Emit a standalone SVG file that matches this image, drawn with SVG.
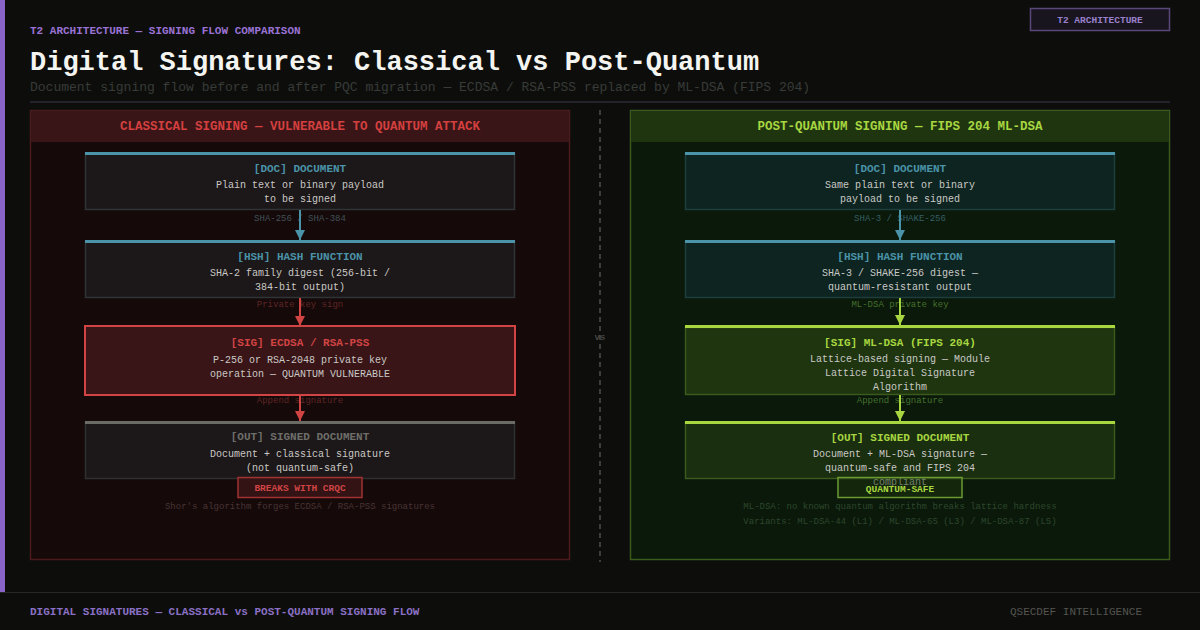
<svg xmlns="http://www.w3.org/2000/svg" width="1200" height="630" viewBox="0 0 1200 630">
<defs>
<style>
text{font-family:"Liberation Mono","DejaVu Sans Mono",monospace;}
.b{font-weight:bold;}
.c{text-anchor:middle;}
.body{font-size:10px;fill:#c9c9c6;}
.ttl{font-size:11px;font-weight:bold;text-anchor:middle;}
.lbl{font-size:9px;text-anchor:middle;}
.note{font-size:9px;text-anchor:middle;}
</style>
<marker id="aT" viewBox="0 0 10 10" refX="10" refY="5" markerWidth="5" markerHeight="5" orient="auto" markerUnits="strokeWidth"><path d="M0,0 L10,5 L0,10 Z" fill="#4a93a8"/></marker>
<marker id="aR" viewBox="0 0 10 10" refX="10" refY="5" markerWidth="5" markerHeight="5" orient="auto" markerUnits="strokeWidth"><path d="M0,0 L10,5 L0,10 Z" fill="#d04444"/></marker>
<marker id="aG" viewBox="0 0 10 10" refX="10" refY="5" markerWidth="5" markerHeight="5" orient="auto" markerUnits="strokeWidth"><path d="M0,0 L10,5 L0,10 Z" fill="#a8d640"/></marker>
</defs>
<rect x="0" y="0" width="1200" height="630" fill="#0d0e0c"/>
<rect x="0" y="0" width="5" height="592" fill="#8a63c8"/>
<line x1="0" y1="592.5" x2="1200" y2="592.5" stroke="#262824" stroke-width="1"/>

<g id="header">
<text x="30" y="34" class="b" font-size="11" fill="#9a72d4">T2 ARCHITECTURE — SIGNING FLOW COMPARISON</text>
<text x="30" y="70" class="b" font-size="27" fill="#f4f4f0">Digital Signatures: Classical vs Post-Quantum</text>
<text x="30" y="91" font-size="13" fill="#383b38">Document signing flow before and after PQC migration — ECDSA / RSA-PSS replaced by ML-DSA (FIPS 204)</text>
<line x1="30" y1="102" x2="1170" y2="102" stroke="#23232c" stroke-width="2"/>
</g>
<g id="badge-top">
<rect x="1030.5" y="8.5" width="139" height="22" fill="#19151f" stroke="#5a4878" stroke-width="1.5"/>
<text x="1100" y="23" class="b c" font-size="9.5" fill="#9a80cc">T2 ARCHITECTURE</text>
</g>

<g id="panel-classical">
<rect x="30.5" y="110.5" width="539" height="449" fill="#160909" stroke="#4a1b1b" stroke-width="1.5"/>
<rect x="31" y="111" width="538" height="31" fill="#3a1517"/>
<text x="300" y="130" class="b c" font-size="12.5" fill="#d4403f">CLASSICAL SIGNING — VULNERABLE TO QUANTUM ATTACK</text>
</g>
<g id="panel-pqc">
<rect x="630.5" y="110.5" width="539" height="449" fill="#0a190a" stroke="#3a5a1e" stroke-width="1.5"/>
<rect x="631" y="111" width="538" height="31" fill="#1f3510"/>
<text x="900" y="130" class="b c" font-size="12.5" fill="#a8d640">POST-QUANTUM SIGNING — FIPS 204 ML-DSA</text>
</g>

<g id="divider">
<line x1="600" y1="110" x2="600" y2="562" stroke="#4d4d4a" stroke-width="1.5" stroke-dasharray="5 4"/>
<text x="600" y="340" class="c" font-size="9" fill="#5a5a56">vs</text>
</g>

<!-- Classical nodes -->
<g id="c-doc">
<rect x="85.5" y="153.5" width="429" height="56" fill="#1c1718" stroke="#2f3436" stroke-width="1.5"/>
<rect x="85" y="152" width="430" height="3" fill="#4a93a8"/>
<text x="300" y="172" class="ttl" fill="#4a93a8">[DOC] DOCUMENT</text>
<text x="300" y="188" class="body c">Plain text or binary payload</text>
<text x="300" y="202" class="body c">to be signed</text>
</g>
<g id="c-hsh">
<rect x="85.5" y="241.5" width="429" height="56" fill="#1c1718" stroke="#2f3436" stroke-width="1.5"/>
<rect x="85" y="240" width="430" height="3" fill="#4a93a8"/>
<text x="300" y="260" class="ttl" fill="#4a93a8">[HSH] HASH FUNCTION</text>
<text x="300" y="276" class="body c">SHA-2 family digest (256-bit /</text>
<text x="300" y="290" class="body c">384-bit output)</text>
</g>
<g id="c-sig">
<rect x="85" y="326" width="430" height="69" fill="#3a1517" stroke="#d04444" stroke-width="2"/>
<text x="300" y="346" class="ttl" fill="#d04444">[SIG] ECDSA / RSA-PSS</text>
<text x="300" y="363" class="body c">P-256 or RSA-2048 private key</text>
<text x="300" y="377" class="body c">operation — QUANTUM VULNERABLE</text>
</g>
<g id="c-out">
<rect x="85.5" y="422.5" width="429" height="56" fill="#1c1718" stroke="#2f3031" stroke-width="1.5"/>
<rect x="85" y="421" width="430" height="3" fill="#6b6b66"/>
<text x="300" y="440" class="ttl" fill="#6e6e6a">[OUT] SIGNED DOCUMENT</text>
<text x="300" y="457" class="body c">Document + classical signature</text>
<text x="300" y="471" class="body c">(not quantum-safe)</text>
</g>
<g id="c-badge">
<rect x="238" y="477.5" width="124" height="20" fill="#3a1517" fill-opacity="0.85" stroke="#a03232" stroke-width="1.5"/>
<text x="300" y="491" class="b c" font-size="9.5" fill="#d04444">BREAKS WITH CRQC</text>
</g>
<text x="300" y="509" class="note" fill="#473535">Shor's algorithm forges ECDSA / RSA-PSS signatures</text>

<!-- PQC nodes -->
<g id="p-doc">
<rect x="685.5" y="153.5" width="429" height="56" fill="#0e2420" stroke="#1e3e3c" stroke-width="1.5"/>
<rect x="685" y="152" width="430" height="3" fill="#4a93a8"/>
<text x="900" y="172" class="ttl" fill="#4a93a8">[DOC] DOCUMENT</text>
<text x="900" y="188" class="body c">Same plain text or binary</text>
<text x="900" y="202" class="body c">payload to be signed</text>
</g>
<g id="p-hsh">
<rect x="685.5" y="241.5" width="429" height="56" fill="#0e2420" stroke="#1e3e3c" stroke-width="1.5"/>
<rect x="685" y="240" width="430" height="3" fill="#4a93a8"/>
<text x="900" y="260" class="ttl" fill="#4a93a8">[HSH] HASH FUNCTION</text>
<text x="900" y="276" class="body c">SHA-3 / SHAKE-256 digest —</text>
<text x="900" y="290" class="body c">quantum-resistant output</text>
</g>
<g id="p-sig">
<rect x="685.5" y="327.5" width="429" height="67" fill="#1e3510" stroke="#3a5a1e" stroke-width="1.5"/>
<rect x="685" y="325" width="430" height="3" fill="#a8d640"/>
<text x="900" y="346" class="ttl" fill="#a8d640">[SIG] ML-DSA (FIPS 204)</text>
<text x="900" y="362" class="body c">Lattice-based signing — Module</text>
<text x="900" y="376" class="body c">Lattice Digital Signature</text>
<text x="900" y="390" class="body c">Algorithm</text>
</g>
<g id="p-out">
<rect x="685.5" y="422.5" width="429" height="56" fill="#1a2e10" stroke="#3a5a1e" stroke-width="1.5"/>
<rect x="685" y="421" width="430" height="3" fill="#a8d640"/>
<text x="900" y="441" class="ttl" fill="#a8d640">[OUT] SIGNED DOCUMENT</text>
<text x="900" y="457" class="body c">Document + ML-DSA signature —</text>
<text x="900" y="471" class="body c">quantum-safe and FIPS 204</text>
<text x="900" y="485" class="body c">compliant</text>
</g>
<g id="p-badge">
<rect x="838" y="477.5" width="124" height="20" fill="#1e3510" fill-opacity="0.5" stroke="#6a9a30" stroke-width="1.5"/>
<text x="900" y="492" class="b c" font-size="9.5" fill="#a8d640">QUANTUM-SAFE</text>
</g>
<text x="900" y="509" class="note" fill="#2e472c">ML-DSA: no known quantum algorithm breaks lattice hardness</text>
<text x="900" y="524" class="note" fill="#2e472c">Variants: ML-DSA-44 (L1) / ML-DSA-65 (L3) / ML-DSA-87 (L5)</text>

<g id="connectors">
<text x="300" y="221" class="lbl" fill="#3f5258">SHA-256 / SHA-384</text>
<text x="300" y="307" class="lbl" fill="#5e2626">Private key sign</text>
<text x="300" y="403" class="lbl" fill="#5e2626">Append signature</text>
<text x="900" y="221" class="lbl" fill="#355e64">SHA-3 / SHAKE-256</text>
<text x="900" y="307" class="lbl" fill="#46702c">ML-DSA private key</text>
<text x="900" y="403" class="lbl" fill="#46702c">Append signature</text>
<line x1="300" y1="210" x2="300" y2="240" stroke="#4a93a8" stroke-width="2" marker-end="url(#aT)"/>
<line x1="300" y1="298" x2="300" y2="326" stroke="#d04444" stroke-width="2" marker-end="url(#aR)"/>
<line x1="300" y1="395" x2="300" y2="421" stroke="#d04444" stroke-width="2" marker-end="url(#aR)"/>
<line x1="900" y1="210" x2="900" y2="240" stroke="#4a93a8" stroke-width="2" marker-end="url(#aT)"/>
<line x1="900" y1="298" x2="900" y2="325" stroke="#a8d640" stroke-width="2" marker-end="url(#aG)"/>
<line x1="900" y1="395" x2="900" y2="421" stroke="#a8d640" stroke-width="2" marker-end="url(#aG)"/>
</g>

<g id="footer">
<text x="30" y="615" class="b" font-size="11" fill="#8a70c4">DIGITAL SIGNATURES — CLASSICAL vs POST-QUANTUM SIGNING FLOW</text>
<text x="1142" y="615" font-size="11" text-anchor="end" fill="#545450">QSECDEF INTELLIGENCE</text>
</g>
</svg>
